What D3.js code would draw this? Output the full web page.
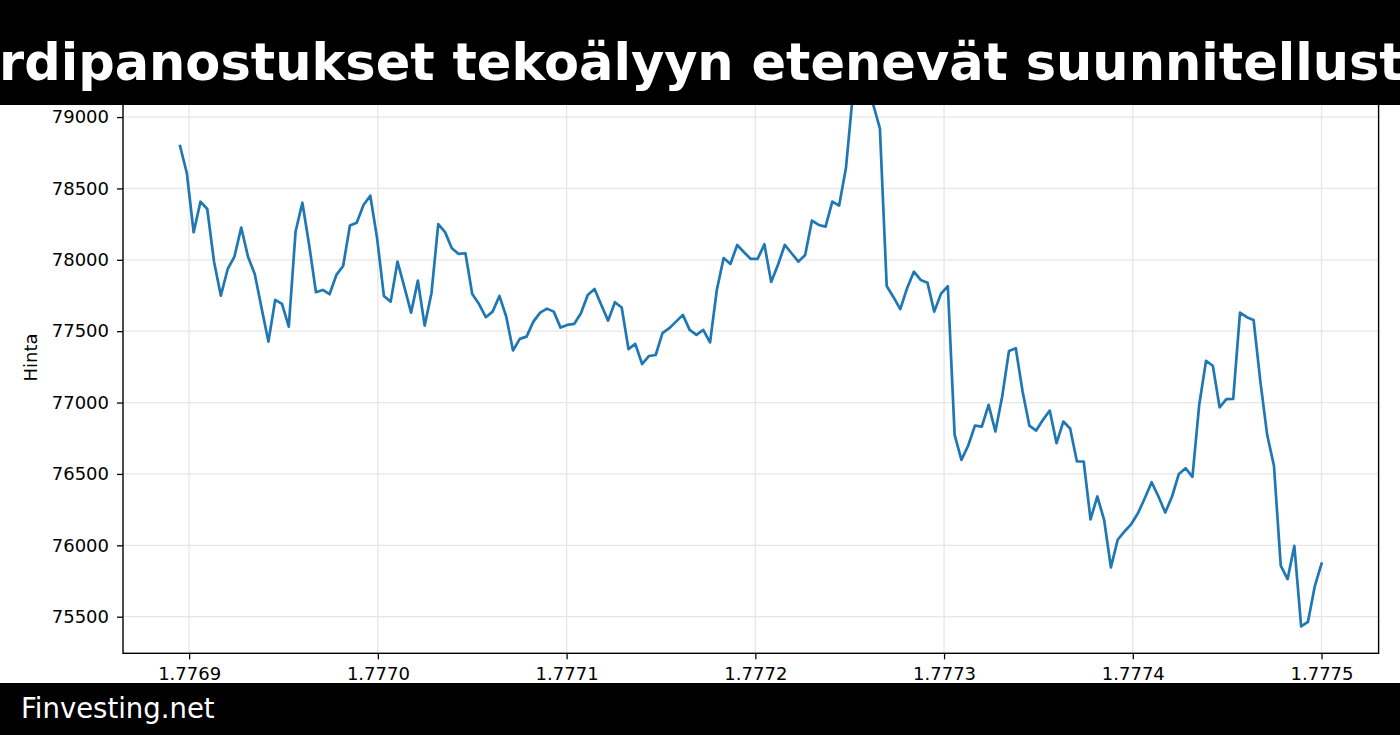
<!DOCTYPE html>
<html><head><meta charset="utf-8">
<script src="https://cdn.jsdelivr.net/npm/d3@7"></script>
<style>
body{margin:0;background:#fff;}
svg{display:block;font-family:"DejaVu Sans",sans-serif;}
</style>
</head><body>
<svg id="chart" width="1400" height="735"></svg>
<script>
const titleText = "Miljardipanostukset tekoälyyn etenevät suunnitellusti";
const titleHiddenPrefix = "Milja";
const footerText = "Finvesting.net";
const yLabelText = "Hinta";
const xTickValues = [1.7769, 1.7770, 1.7771, 1.7772, 1.7773, 1.7774, 1.7775];
const yTickValues = [75500, 76000, 76500, 77000, 77500, 78000, 78500, 79000];
const xStart = 1.7768952;
const xStep = 0.0000036;
const prices = [
78797,78606,78193,78407,78356,77987,77749,77934,78022,78226,
78022,77899,77661,77427,77719,77691,77532,78198,78400,78104,
77773,77789,77759,77894,77957,78240,78260,78384,78449,78150,
77747,77707,77987,77812,77630,77854,77539,77766,78250,78194,
78081,78041,78046,77760,77690,77598,77637,77747,77603,77365,
77446,77462,77567,77630,77658,77637,77525,77544,77551,77626,
77754,77796,77684,77574,77703,77666,77374,77411,77270,77326,
77333,77486,77521,77567,77614,77509,77474,77509,77421,77789,
78012,77971,78104,78053,78006,78006,78109,77845,77965,78104,
78046,77987,78034,78275,78244,78232,78408,78380,78641,79150,
79200,79160,79090,78921,77817,77738,77654,77801,77917,77859,
77840,77637,77763,77815,76774,76599,76699,76839,76832,76984,
76797,77042,77362,77381,77077,76839,76804,76879,76944,76716,
76867,76818,76587,76587,76182,76342,76179,75846,76039,76097,
76149,76226,76331,76442,76342,76230,76342,76500,76540,76480,
76985,77292,77258,76967,77024,77025,77630,77598,77579,77147,
76774,76557,75857,75763,75997,75432,75463,75712,75871
];

const W = 1400, H = 735;
const margin = {left: 123, right: 21.4, top: 61.6, bottom: 81.7};
const svg = d3.select("#chart");
const data = prices.map((v, i) => ({x: xStart + i * xStep, y: v}));

const xExt = d3.extent(data, d => d.x);
const yExt = d3.extent(data, d => d.y);
const xPad = (xExt[1] - xExt[0]) * 0.05;
const yPad = (yExt[1] - yExt[0]) * 0.05;

const x = d3.scaleLinear().domain([xExt[0] - xPad, xExt[1] + xPad]).range([margin.left, W - margin.right]);
const y = d3.scaleLinear().domain([yExt[0] - yPad, yExt[1] + yPad]).range([H - margin.bottom, margin.top]);

// grid
const grid = svg.append("g");
grid.selectAll("line.vx").data(xTickValues).join("line")
  .attr("x1", d => x(d)).attr("x2", d => x(d))
  .attr("y1", margin.top).attr("y2", H - margin.bottom)
  .attr("stroke", "#e6e6e6").attr("stroke-width", 1.3);
grid.selectAll("line.hy").data(yTickValues).join("line")
  .attr("x1", margin.left).attr("x2", W - margin.right)
  .attr("y1", d => y(d)).attr("y2", d => y(d))
  .attr("stroke", "#e6e6e6").attr("stroke-width", 1.3);

// line
svg.append("path").datum(data)
  .attr("fill", "none").attr("stroke", "#1f77b4").attr("stroke-width", 2.7)
  .attr("stroke-linejoin", "round").attr("stroke-linecap", "square")
  .attr("d", d3.line().x(d => x(d.x)).y(d => y(d.y)));

// frame
svg.append("rect").attr("x", margin.left).attr("y", margin.top)
  .attr("width", W - margin.right - margin.left).attr("height", H - margin.bottom - margin.top)
  .attr("fill", "none").attr("stroke", "#000").attr("stroke-width", 1.4);

// axes
const xAxis = svg.append("g").attr("transform", `translate(0,${H - margin.bottom})`)
  .call(d3.axisBottom(x).tickValues(xTickValues).tickFormat(d3.format(".4f")).tickSize(6).tickPadding(8));
const yAxis = svg.append("g").attr("transform", `translate(${margin.left},0)`)
  .call(d3.axisLeft(y).tickValues(yTickValues).tickFormat(d3.format("d")).tickSize(6).tickPadding(8));
[xAxis, yAxis].forEach(a => {
  a.select(".domain").remove();
  a.selectAll(".tick line").attr("stroke", "#000").attr("stroke-width", 1.3);
  a.selectAll(".tick text").attr("fill", "#000").style("font-size", "18px").style("font-family", "DejaVu Sans");
});

svg.append("text")
  .attr("transform", `translate(37,${(margin.top + H - margin.bottom) / 2}) rotate(-90)`)
  .attr("text-anchor", "middle").style("font-size", "18px").attr("fill", "#000")
  .text(yLabelText);

// banner
svg.append("rect").attr("x", 0).attr("y", 0).attr("width", W).attr("height", 105).attr("fill", "#000");
const probe = svg.append("text").style("font-size", "51px").style("font-weight", "bold").text(titleHiddenPrefix);
const prefixW = probe.node().getComputedTextLength();
probe.remove();
svg.append("text").attr("x", -1 - prefixW).attr("y", 80)
  .style("font-size", "51px").style("font-weight", "bold").attr("fill", "#fff")
  .text(titleText);

// footer
svg.append("rect").attr("x", 0).attr("y", 683).attr("width", W).attr("height", H - 683).attr("fill", "#000");
svg.append("text").attr("x", 21).attr("y", 718)
  .style("font-size", "27.5px").attr("fill", "#fff").text(footerText);
</script>
</body></html>
